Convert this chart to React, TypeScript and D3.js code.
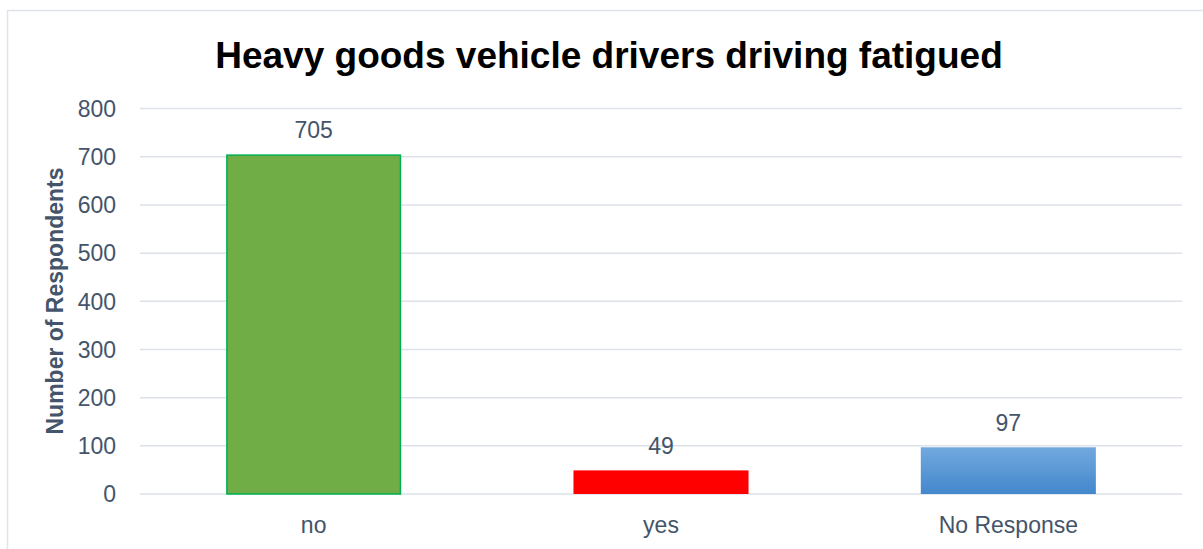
import React from "react";
import * as d3 from "d3";

const categories = ["no", "yes", "No Response"];
const values = [705, 49, 97];
const yTicks = [0, 100, 200, 300, 400, 500, 600, 700, 800];
const title = "Heavy goods vehicle drivers driving fatigued";
const yTitle = "Number of Respondents";

const W = 1203;
const H = 549;
const plot = { left: 140, right: 1182, top: 108.6, bottom: 494 };
const FONT = "Arial, 'Liberation Sans', sans-serif";
const TEXT = "#44546a";

export default function App() {
  const x = d3
    .scaleBand<string>()
    .domain(categories)
    .range([plot.left, plot.right])
    .paddingInner(0.496)
    .paddingOuter(0.248);
  const y = d3.scaleLinear().domain([0, 800]).range([plot.bottom, plot.top]);

  return (
    <svg
      width={W}
      height={H}
      style={{ position: "absolute", left: 0, top: 0, background: "#fff" }}
      fontFamily={FONT}
    >
      <defs>
        <linearGradient id="blueGrad" x1="0" y1="0" x2="0" y2="1">
          <stop offset="0%" stopColor="#72a9de" />
          <stop offset="100%" stopColor="#4387cc" />
        </linearGradient>
      </defs>
      <rect x={0} y={0} width={W} height={H} fill="#fff" />
      {/* chart border */}
      <path d={`M7.5,${H + 2} V10.5 H${W + 2}`} fill="none" stroke="#dfe3eb" strokeWidth={1.5} />

      <text x={609} y={68} textAnchor="middle" fontSize={37} fontWeight="bold" fill="#000">
        {title}
      </text>

      {yTicks.map((t) => (
        <g key={t}>
          <line x1={plot.left} x2={plot.right} y1={y(t)} y2={y(t)} stroke="#dde2ea" strokeWidth={1.5} />
          <text x={116} y={y(t) + 8.3} textAnchor="end" fontSize={23} fill={TEXT}>
            {t}
          </text>
        </g>
      ))}

      <text
        transform={`translate(63,301) rotate(-90)`}
        textAnchor="middle"
        fontSize={23}
        fontWeight="bold"
        fill={TEXT}
      >
        {yTitle}
      </text>

      {categories.map((c, i) => {
        const bx = x(c)!;
        const bw = x.bandwidth();
        const by = y(values[i]);
        const bh = plot.bottom - by;
        let fill = "#70ad47";
        let stroke = "none";
        if (i === 0) stroke = "#00b050";
        if (i === 1) fill = "#ff0000";
        if (i === 2) fill = "url(#blueGrad)";
        return (
          <g key={c}>
            <rect
              x={i === 0 ? bx + 0.75 : bx}
              y={i === 0 ? by + 0.75 : by}
              width={i === 0 ? bw - 1.5 : bw}
              height={i === 0 ? bh - 0.75 : bh}
              fill={fill}
              stroke={stroke}
              strokeWidth={1.5}
            />
            <text x={bx + bw / 2} y={by - 16} textAnchor="middle" fontSize={23} fill={TEXT}>
              {values[i]}
            </text>
            <text x={bx + bw / 2} y={533} textAnchor="middle" fontSize={23} fill={TEXT}>
              {c}
            </text>
          </g>
        );
      })}
    </svg>
  );
}
